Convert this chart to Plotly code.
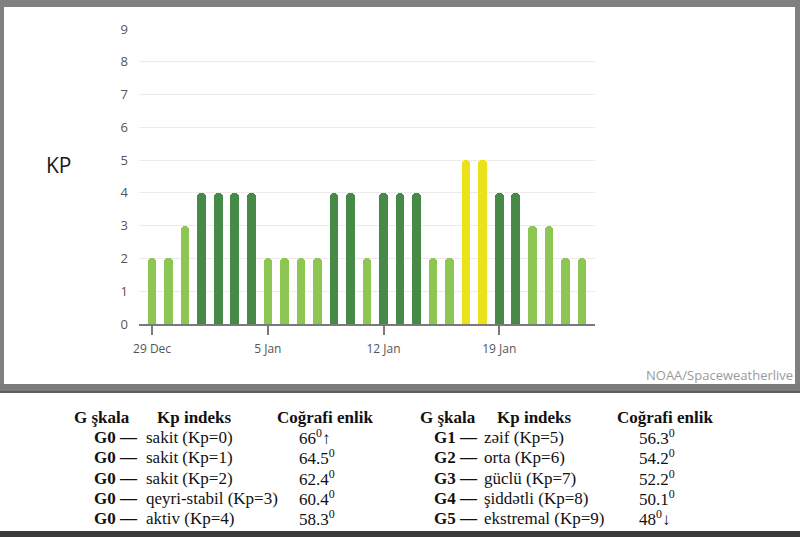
import plotly.graph_objects as go

# ---- data ----
dates = ["2024-12-29", "2024-12-30", "2024-12-31", "2025-01-01", "2025-01-02",
         "2025-01-03", "2025-01-04", "2025-01-05", "2025-01-06", "2025-01-07",
         "2025-01-08", "2025-01-09", "2025-01-10", "2025-01-11", "2025-01-12",
         "2025-01-13", "2025-01-14", "2025-01-15", "2025-01-16", "2025-01-17",
         "2025-01-18", "2025-01-19", "2025-01-20", "2025-01-21", "2025-01-22",
         "2025-01-23", "2025-01-24"]
kp = [2, 2, 3, 4, 4, 4, 4, 2, 2, 2, 2, 4, 4, 2, 4, 4, 4, 2, 2, 5, 5, 4, 4, 3, 3, 2, 2]

tick_dates = ["2024-12-29", "2025-01-05", "2025-01-12", "2025-01-19"]
tick_labels = ["29 Dec", "5 Jan", "12 Jan", "19 Jan"]

g_left = ["G0 —", "G0 —", "G0 —", "G0 —", "G0 —"]
desc_left = ["sakit (Kp=0)", "sakit (Kp=1)", "sakit (Kp=2)", "qeyri-stabil (Kp=3)", "aktiv (Kp=4)"]
lat_left = ["66<sup>0</sup>↑", "64.5<sup>0</sup>", "62.4<sup>0</sup>", "60.4<sup>0</sup>", "58.3<sup>0</sup>"]
g_right = ["G1 —", "G2 —", "G3 —", "G4 —", "G5 —"]
desc_right = ["zəif (Kp=5)", "orta (Kp=6)", "güclü (Kp=7)", "şiddətli (Kp=8)", "ekstremal (Kp=9)"]
lat_right = ["56.3<sup>0</sup>", "54.2<sup>0</sup>", "52.2<sup>0</sup>", "50.1<sup>0</sup>", "48<sup>0</sup>↓"]
headers = ["G şkala", "Kp indeks", "Coğrafi enlik"]

LIGHT, DARK, YELLOW = "#8dc652", "#478a48", "#ece21c"


def bar_color(v):
    if v >= 5:
        return YELLOW
    if v >= 4:
        return DARK
    return LIGHT


colors = [bar_color(v) for v in kp]

W, H = 800, 537
L, R, T, B = 139, 205, 29, 213
PW, PH = W - L - R, H - T - B


def px(x):
    return (x - L) / PW


def py(y):
    return (H - B - y) / PH


fig = go.Figure()
fig.add_trace(go.Bar(x=dates, y=kp, marker=dict(color=colors, cornerradius=4, line=dict(width=0)),
                     width=0.52 * 86400000, hoverinfo="x+y"))

shapes = []


def rect(x0, y0, x1, y1, color):
    shapes.append(dict(type="rect", xref="paper", yref="paper", x0=px(x0), x1=px(x1),
                       y0=py(y1), y1=py(y0), fillcolor=color, line=dict(width=0), layer="below"))


rect(0, 0, 800, 7, "#808080")
rect(0, 0, 4, 386, "#808080")
rect(795, 0, 800, 386, "#808080")
rect(0, 384, 800, 393, "#7c7c7c")
rect(0, 391, 800, 393, "#5e5e5e")
rect(0, 531, 800, 537, "#3a3a3a")

ann = []


def text(x, y, s, size=17, anchor="left", family="Liberation Serif", color="#111"):
    ann.append(dict(xref="paper", yref="paper", x=px(x), y=py(y), text=s, showarrow=False,
                    xanchor=anchor, yanchor="middle", font=dict(family=family, size=size, color=color)))


text(59, 165, "KP", size=21, anchor="center", family="Open Sans", color="#1a1a1a")
text(795, 375, "NOAA/Spaceweatherlive", size=13, anchor="right", family="Open Sans", color="#9a9a9a")

row_y = [437, 457, 478, 498, 518]
for hx, s in zip([72, 155, 275], headers):
    text(hx, 417, "<b>" + s + "</b>")
for hx, s in zip([418, 495, 615], headers):
    text(hx, 417, "<b>" + s + "</b>")
for i, y in enumerate(row_y):
    text(92, y, "<b>" + g_left[i] + "</b>")
    text(144, y, desc_left[i])
    text(297, y, lat_left[i])
    text(432, y, "<b>" + g_right[i] + "</b>")
    text(482, y, desc_right[i])
    text(637, y, lat_right[i])

fig.update_layout(
    width=W, height=H,
    margin=dict(l=L, r=R, t=T, b=B, pad=0),
    paper_bgcolor="white", plot_bgcolor="white",
    showlegend=False,
    shapes=shapes, annotations=ann,
    bargap=0,
    xaxis=dict(type="date", range=["2024-12-28 05:00", "2025-01-24 19:00"],
               tickvals=tick_dates, ticktext=tick_labels,
               showgrid=False, showline=True, linecolor="#7a7a7a", linewidth=1.5,
               ticks="outside", ticklen=9, tickwidth=1.5, tickcolor="#7a7a7a",
               ticklabelstandoff=4,
               tickfont=dict(family="Open Sans", size=12, color="#555"), zeroline=False),
    yaxis=dict(range=[0, 9], dtick=1, tick0=0, showgrid=True, gridcolor="#ebebeb", gridwidth=1,
               zeroline=False, showline=False, ticks="", ticklabelstandoff=10,
               tickfont=dict(family="Open Sans", size=13, color="#555")),
)

fig.write_html("out.html", config={"displayModeBar": False},
               post_script="document.body.style.margin='0';document.body.style.overflow='hidden';")
